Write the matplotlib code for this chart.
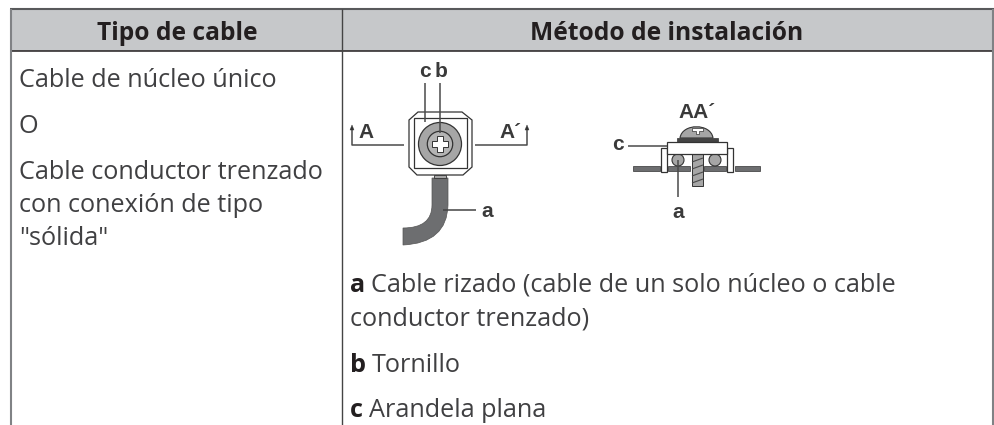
"""
Recreates the cable type / installation method table with its two small drawings.
Saves:
  out.png
"""
import matplotlib
matplotlib.use("Agg")
import matplotlib.pyplot as plt
from matplotlib.patches import Rectangle, Polygon, Circle, PathPatch
from matplotlib.path import Path

headers = ["Tipo de cable", "Método de instalación"]
left_lines = ["Cable de núcleo único", "O", "Cable conductor trenzado", "con conexión de tipo", '"sólida"']
left_y = [87, 133, 179, 212, 245]
legend_keys = ["a", "", "b", "c"]
legend_text = ["Cable rizado (cable de un solo núcleo o cable", "conductor trenzado)", "Tornillo", "Arandela plana"]
legend_y = [292, 326, 372, 417]

BODY = "#404042"
LINE = "#333333"
LEADER = "#4a4a4a"
GREY = "#a6a6a6"
DARK = "#6d6e70"
HEAD = "#c6c8ca"
EDGE = "#808285"


def line(ax, xs, ys, lw=1.1, color=LEADER, z=3):
    ax.plot(xs, ys, color=color, lw=lw, solid_capstyle="butt", zorder=z)


def label(ax, x, y, s, size=15):
    ax.text(x, y, s, family="Liberation Sans", weight="bold", fontsize=size,
            color="#3a3a3a", ha="center", va="center", zorder=6)


def draw_top_view(ax):
    # square clamp seen from above
    outer = [(418, 112), (409, 120), (409, 167), (417, 175), (463, 175), (472, 167), (472, 120), (462, 112)]
    ax.add_patch(Polygon(outer, closed=True, fc="white", ec=LINE, lw=0.9, zorder=2))
    ax.add_patch(Rectangle((414, 118), 53, 50, fc="white", ec=LINE, lw=0.9, zorder=2))
    ax.add_patch(Circle((440, 144), 21.5, fc=GREY, ec=LINE, lw=0.9, zorder=3))
    ax.add_patch(Circle((440, 144), 12.7, fc="#b4b4b4", ec=LINE, lw=0.9, zorder=4))
    cross = [(437, 136), (443, 136), (443, 141), (448, 141), (448, 147), (443, 147),
             (443, 152), (437, 152), (437, 147), (432, 147), (432, 141), (437, 141)]
    ax.add_patch(Polygon(cross, closed=True, fc="white", ec=LINE, lw=0.7, zorder=5))
    # cable
    verts = [(432, 178), (448, 178), (448, 205), (447, 243), (403, 245),
             (403, 228), (432, 228), (432, 205), (432, 178)]
    codes = [Path.MOVETO, Path.LINETO, Path.LINETO, Path.CURVE3, Path.CURVE3,
             Path.LINETO, Path.CURVE3, Path.CURVE3, Path.CLOSEPOLY]
    ax.add_patch(PathPatch(Path(verts, codes), fc=DARK, ec="#555555", lw=0.5, zorder=3))
    ax.add_patch(Rectangle((434, 175), 12, 3, fc=GREY, ec=LINE, lw=0.6, zorder=3))
    # leaders
    line(ax, [425, 425], [83, 122], z=5)
    line(ax, [440, 440], [83, 133], z=5)
    line(ax, [443, 476], [210, 210], color="#444444", z=5)
    # section markers
    line(ax, [352, 352, 404], [129, 145, 145])
    line(ax, [475, 527, 527], [145, 145, 129])
    ax.add_patch(Polygon([(350, 130), (354, 130), (352, 125)], fc=LINE, ec=LINE, lw=0.3, zorder=3))
    ax.add_patch(Polygon([(525, 130), (529, 130), (527, 125)], fc=LINE, ec=LINE, lw=0.3, zorder=3))
    label(ax, 366, 133, "A")
    label(ax, 510, 133, "A´")
    label(ax, 425, 71, "c")
    label(ax, 441, 71, "b")
    label(ax, 487, 211, "a")


def draw_section(ax):
    # base plate
    for x0, x1 in [(633, 660), (668, 690), (704, 726), (735, 760)]:
        ax.add_patch(Rectangle((x0, 166), x1 - x0, 5, fc=DARK, ec=LINE, lw=0.5, zorder=2))
    # screw head
    head = Path([(680, 138), (682, 123), (711, 123), (713, 138), (680, 138)],
                [Path.MOVETO, Path.CURVE4, Path.CURVE4, Path.CURVE4, Path.CLOSEPOLY])
    ax.add_patch(PathPatch(head, fc=GREY, ec=LINE, lw=0.8, zorder=3))
    ax.add_patch(Polygon([(692, 128), (703, 128), (703, 131), (699, 131), (699, 134), (696, 134), (696, 131), (692, 131)],
                         closed=True, fc="white", ec=LINE, lw=0.5, zorder=4))
    ax.add_patch(Rectangle((677, 138), 41, 4, fc="#444444", ec=LINE, lw=0.5, zorder=3))
    # washer and clamp
    ax.add_patch(Rectangle((667, 142), 60, 12, fc="white", ec=LINE, lw=0.9, zorder=4))
    ax.add_patch(Rectangle((661, 148), 6, 24, fc="white", ec=LINE, lw=0.9, zorder=3))
    ax.add_patch(Rectangle((727, 148), 6, 24, fc="white", ec=LINE, lw=0.9, zorder=3))
    # threaded shank
    ax.add_patch(Rectangle((692, 154), 11, 32, fc=GREY, ec=LINE, lw=0.7, zorder=3))
    for y in [160, 167, 174, 181]:
        line(ax, [692, 703], [y + 2, y - 2], lw=0.8)
    # wires
    ax.add_patch(Circle((678, 160), 6, fc=GREY, ec=LINE, lw=0.8, zorder=3))
    ax.add_patch(Circle((715, 160), 6, fc=GREY, ec=LINE, lw=0.8, zorder=3))
    # leaders
    line(ax, [628, 667], [146, 146], z=5)
    line(ax, [678, 678], [160, 197], z=5)
    label(ax, 697, 112, "AA´")
    label(ax, 618, 144, "c")
    label(ax, 678, 212, "a")


def main():
    fig = plt.figure(figsize=(9.95, 4.25), dpi=100)
    ax = fig.add_axes([0, 0, 1, 1])
    ax.set_xlim(0, 995)
    ax.set_ylim(425, 0)
    ax.axis("off")

    # table frame
    ax.add_patch(Rectangle((11, 9), 982, 42, fc=HEAD, ec="none", zorder=1))
    line(ax, [10, 994], [9, 9], lw=1.5, color="#58595b")
    line(ax, [11, 993], [51, 51], lw=1.1, color="#231f20")
    line(ax, [11, 11], [9, 425], lw=1.5, color=EDGE)
    line(ax, [993, 993], [9, 425], lw=1.5, color=EDGE)
    line(ax, [342, 342], [9, 425], lw=1.0, color="#444444")

    ax.text(177, 39.5, headers[0], family="Open Sans", weight="bold", fontsize=17.7,
            color="#231f20", ha="center", va="baseline")
    ax.text(667, 39.5, headers[1], family="Open Sans", weight="bold", fontsize=17.7,
            color="#231f20", ha="center", va="baseline")

    for s, y in zip(left_lines, left_y):
        ax.text(19, y, s, family="Open Sans", fontsize=18.2, color=BODY, ha="left", va="baseline")

    for k, s, y in zip(legend_keys, legend_text, legend_y):
        x = 350
        if k:
            t = ax.text(x, y, k, family="Open Sans", weight="bold", fontsize=18.2, color="#231f20",
                        ha="left", va="baseline")
            bb = t.get_window_extent(fig.canvas.get_renderer())
            x = bb.x1 + 6
        ax.text(x, y, s, family="Open Sans", fontsize=18.2, color=BODY, ha="left", va="baseline")

    draw_top_view(ax)
    draw_section(ax)

    fig.savefig("out.png", dpi=100)
    plt.close(fig)


if __name__ == "__main__":
    main()
